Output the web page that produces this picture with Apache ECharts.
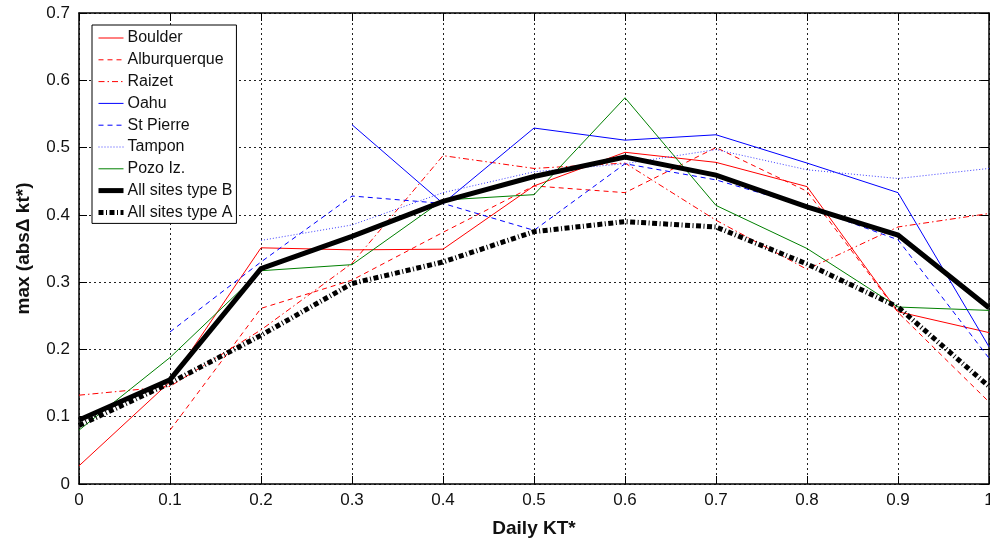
<!DOCTYPE html>
<html>
<head>
<meta charset="utf-8">
<script src="https://cdn.jsdelivr.net/npm/echarts@6/dist/echarts.min.js"></script>
<style>
  html, body { margin: 0; padding: 0; background: #fff; }
  #chart { width: 990px; height: 542px; }
</style>
</head>
<body>
<div id="chart"></div>
<script>
// Daily clearness index bins
const kt = [0, 0.1, 0.2, 0.3, 0.4, 0.5, 0.6, 0.7, 0.8, 0.9, 1.0];

// max(abs Δ kt*) per site (null where a bin has no data)
const boulder      = [0.027, 0.152, 0.351, 0.348, 0.349, 0.443, 0.493, 0.478, 0.442, 0.256, 0.225];
const alburquerque = [null, 0.080, 0.261, 0.303, 0.374, 0.443, 0.433, 0.500, 0.435, 0.255, 0.122];
const raizet       = [0.132, 0.145, 0.229, 0.328, 0.488, 0.469, 0.477, 0.392, 0.319, 0.382, 0.402];
const oahu         = [null, null, null, 0.534, 0.417, 0.529, 0.511, 0.519, 0.477, 0.433, 0.204];
const stPierre     = [null, 0.226, 0.330, 0.428, 0.417, 0.377, 0.476, 0.452, 0.412, 0.363, 0.187];
const tampon       = [null, null, 0.362, 0.385, 0.433, 0.464, 0.476, 0.497, 0.467, 0.454, 0.469];
const pozoIz       = [0.080, 0.188, 0.317, 0.326, 0.422, 0.430, 0.574, 0.414, 0.350, 0.263, 0.258];
const allTypeB     = [0.095, 0.155, 0.320, 0.368, 0.420, 0.457, 0.486, 0.459, 0.412, 0.370, 0.262];
const allTypeA     = [0.087, 0.150, 0.221, 0.298, 0.330, 0.375, 0.390, 0.382, 0.327, 0.263, 0.145];

const FONT = 'Liberation Sans, Arial, Helvetica, sans-serif';

function pairs(values) {
  return kt.map((x, i) => [x, values[i]]);
}

function line(name, values, color, width, type) {
  return {
    name: name,
    type: 'line',
    data: pairs(values),
    symbol: 'none',
    connectNulls: false,
    animation: false,
    lineStyle: { color: color, width: width, type: type, cap: 'butt', join: 'miter' },
    itemStyle: { color: color }
  };
}

const series = [
  line('Boulder', boulder, '#ff0000', 1, 'solid'),
  line('Alburquerque', alburquerque, '#ff0000', 1, [5, 4]),
  line('Raizet', raizet, '#ff0000', 1, [6, 3, 1.5, 3]),
  line('Oahu', oahu, '#0000ff', 1, 'solid'),
  line('St Pierre', stPierre, '#0000ff', 1, [5, 4]),
  line('Tampon', tampon, '#3c3cff', 1, [1, 2]),
  line('Pozo Iz.', pozoIz, '#008000', 1, 'solid'),
  line('All sites type B', allTypeB, '#000000', 5, 'solid'),
  line('All sites type A', allTypeA, '#000000', 5, [5, 2.5, 1, 2.5])
];

const dotted = { show: true, lineStyle: { color: '#222', width: 1, type: [2, 3] } };
const tickIn = { show: true, inside: true, length: 8, lineStyle: { color: '#000', width: 1 } };
const axLine = { show: true, onZero: false, lineStyle: { color: '#000', width: 1.5 } };
const lbl = { color: '#111', fontSize: 17, fontFamily: FONT };

const chart = echarts.init(document.getElementById('chart'), null, { renderer: 'canvas' });
chart.setOption({
  backgroundColor: '#fff',
  animation: false,
  grid: { left: 79, right: 1, top: 13, bottom: 58, containLabel: false, outerBoundsMode: 'none' },
  legend: {
    orient: 'vertical',
    left: 92,
    top: 25,
    itemWidth: 25,
    itemHeight: 14,
    itemGap: 5.8,
    padding: [5, 4, 3, 4],
    borderColor: '#000',
    borderWidth: 1,
    backgroundColor: '#fff',
    itemStyle: { opacity: 0 },
    lineStyle: { width: 'inherit' },
    textStyle: { fontSize: 16, fontFamily: FONT, color: '#111', padding: [0, 0, 0, -1] },
    data: series.map(s => s.name)
  },
  xAxis: [
    {
      type: 'value', min: 0, max: 1, interval: 0.1, position: 'bottom',
      axisLine: axLine, axisTick: tickIn, splitLine: dotted,
      axisLabel: Object.assign({ margin: 8 }, lbl),
      name: 'Daily KT*', nameLocation: 'middle', nameGap: 35,
      nameTextStyle: { fontSize: 19, fontWeight: 'bold', fontFamily: FONT, color: '#111' }
    },
    {
      type: 'value', min: 0, max: 1, interval: 0.1, position: 'top',
      axisLine: axLine, axisTick: tickIn, splitLine: { show: false },
      axisLabel: { show: false }
    }
  ],
  yAxis: [
    {
      type: 'value', min: 0, max: 0.7, interval: 0.1, position: 'left',
      axisLine: axLine, axisTick: tickIn, splitLine: dotted,
      axisLabel: Object.assign({ margin: 9 }, lbl),
      name: 'max (abs\u0394 kt*)', nameLocation: 'middle', nameGap: 46, nameRotate: 90,
      nameTextStyle: { fontSize: 19, fontWeight: 'bold', fontFamily: FONT, color: '#111' }
    },
    {
      type: 'value', min: 0, max: 0.7, interval: 0.1, position: 'right',
      axisLine: axLine, axisTick: tickIn, splitLine: { show: false },
      axisLabel: { show: false }
    }
  ],
  series: series
});
</script>
</body>
</html>
